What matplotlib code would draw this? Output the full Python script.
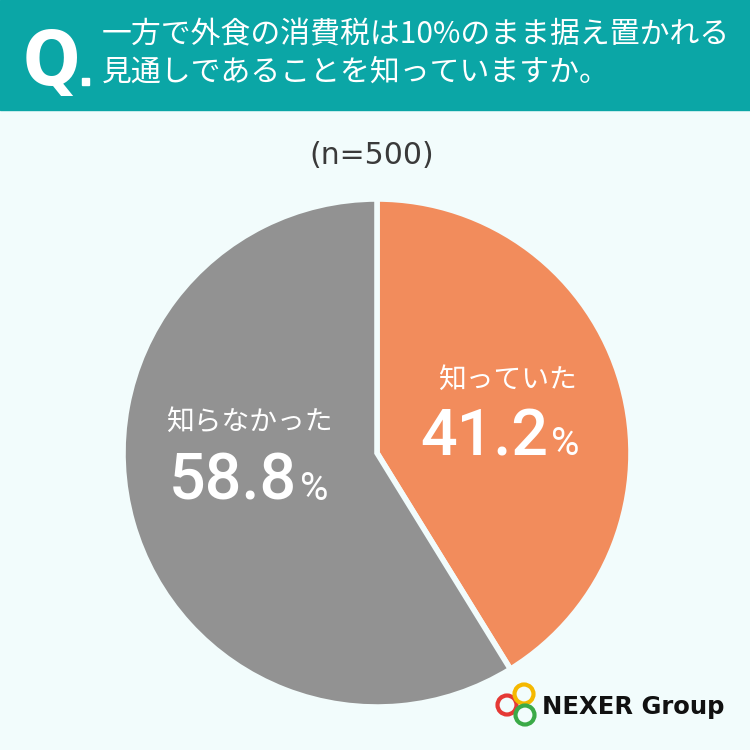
import matplotlib.pyplot as plt
from matplotlib.patches import Rectangle, Circle

plt.rcParams['font.family'] = ['Noto Sans CJK JP', 'DejaVu Sans']

# データ
labels = ["知っていた", "知らなかった"]
values = [41.2, 58.8]
colors = ["#F28C5C", "#929292"]
n_total = 500
question = ["一方で外食の消費税は10%のまま据え置かれる",
            "見通しであることを知っていますか。"]

bg = "#F2FCFC"
teal = "#0BA6A6"

fig = plt.figure(figsize=(7.5, 7.5), dpi=100)
fig.patch.set_facecolor(bg)

# 円グラフ
ax = fig.add_axes([(377 - 254) / 750, (750 - 453 - 254) / 750, 508 / 750, 508 / 750])
ax.pie(values, colors=colors, startangle=90, counterclock=False,
       wedgeprops=dict(edgecolor=bg, linewidth=4))
ax.set_xlim(-1, 1)
ax.set_ylim(-1, 1)
ax.set_aspect("equal")
ax.axis("off")

# ピクセル座標で描くための全面の軸（円の上に重ねる）
ov = fig.add_axes([0, 0, 1, 1], zorder=5)
ov.set_xlim(0, 750)
ov.set_ylim(750, 0)
ov.patch.set_alpha(0)
ov.axis("off")

# ヘッダー
ov.add_patch(Rectangle((0, 0), 750, 110, color=teal, zorder=0))
ov.text(23, 85, "Q", color="white", fontsize=54, fontweight="bold",
        family="DejaVu Sans", fontstretch="condensed", va="baseline")
ov.add_patch(Rectangle((82, 78), 6.5, 7, color="white"))
ov.text(102, 35, question[0], color="white", fontsize=21.5, va="center")
ov.text(102, 72, question[1], color="white", fontsize=21.5, va="center")

ov.text(372, 155, f"(n={n_total})", color="#3A3A3A", fontsize=21.5,
        family="DejaVu Sans", ha="center", va="center")

# ラベル
num_font = ["Roboto", "DejaVu Sans"]
ov.text(507, 380, labels[0], color="white", fontsize=20, ha="center", va="center")
ov.text(548, 455, f"{values[0]}", color="white", fontsize=46.5, ha="right", va="baseline",
        family=num_font, fontweight="medium")
ov.text(551, 455, "%", color="white", fontsize=28, ha="left", va="baseline",
        family=num_font)

ov.text(249, 422, labels[1], color="white", fontsize=20, ha="center", va="center")
ov.text(297, 500, f"{values[1]}", color="white", fontsize=46.5, ha="right", va="baseline",
        family=num_font, fontweight="medium")
ov.text(300, 500, "%", color="white", fontsize=28, ha="left", va="baseline",
        family=num_font)

# ロゴ
for (cx, cy), c in zip([(507, 705), (524, 694), (525, 715)], ["#E53935", "#F5B800", "#3BAA47"]):
    ov.add_patch(Circle((cx, cy), 9.5, fill=False, edgecolor=c, linewidth=3))
ov.text(542, 714, "NEXER Group", color="#111111", fontsize=17.5, fontweight="bold",
        family="DejaVu Sans", va="baseline")

fig.savefig("out.png", dpi=100, facecolor=bg)
